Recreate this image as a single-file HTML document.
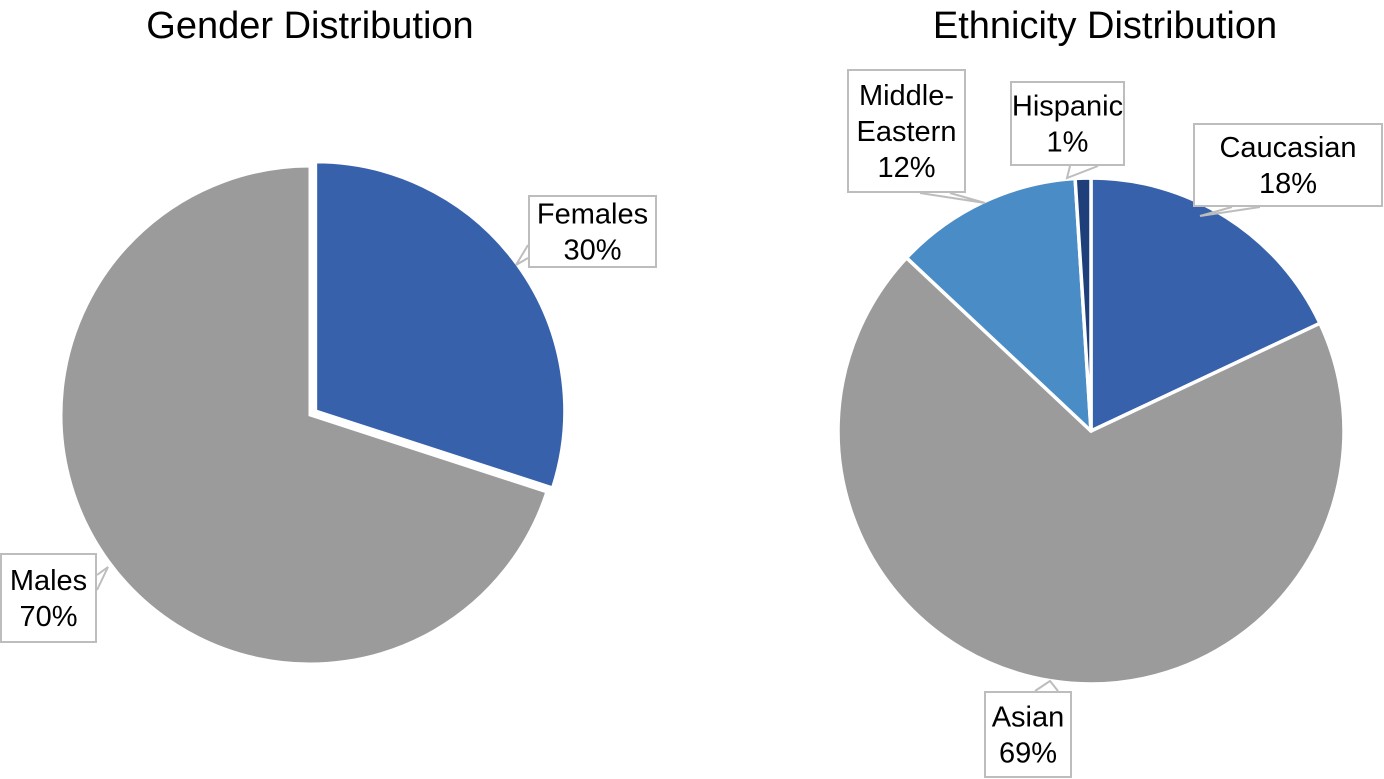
<!DOCTYPE html>
<html><head><meta charset="utf-8"><style>
html,body{margin:0;padding:0;background:#fff;width:1384px;height:779px;overflow:hidden}
svg{display:block;font-family:"Liberation Sans",Arial,sans-serif}
</style></head><body>
<svg id="c" width="1384" height="779" viewBox="0 0 1384 779">
<text x="310" y="38" font-size="38" text-anchor="middle" fill="#000">Gender Distribution</text>
<text x="1105" y="38" font-size="38" text-anchor="middle" fill="#000">Ethnicity Distribution</text>
<g id="g1"></g>
<g id="g2"></g>
<g id="lbl"></g>
</svg>
<script>
const genderCats = ["Females","Males"];
const genderVals = [30,70];
const ethCats = ["Caucasian","Asian","Middle-Eastern","Hispanic"];
const ethVals = [18,69,12,1];

const NS="http://www.w3.org/2000/svg";
function mk(tag,attrs,parent){const e=document.createElementNS(NS,tag);for(const k in attrs)e.setAttribute(k,attrs[k]);parent.appendChild(e);return e;}
function pt(cx,cy,r,a){return [cx+r*Math.sin(a),cy-r*Math.cos(a)];}
function slice(cx,cy,r,a0,a1){const p0=pt(cx,cy,r,a0),p1=pt(cx,cy,r,a1);const large=(a1-a0)>Math.PI?1:0;
 return `M${cx},${cy} L${p0[0]},${p0[1]} A${r},${r} 0 ${large} 1 ${p1[0]},${p1[1]} Z`;}

const g1=document.getElementById('g1');
const gCol=["#3762ab","#9a9b9a"];
const gExplode=[7,0];
let tot=genderVals.reduce((a,b)=>a+b,0),acc=0;
genderVals.forEach((v,i)=>{const a0=acc/tot*2*Math.PI;acc+=v;const a1=acc/tot*2*Math.PI;const m=(a0+a1)/2;
 const cx=310+gExplode[i]*Math.sin(m),cy=415-gExplode[i]*Math.cos(m);
 const p=mk('path',{d:slice(cx,cy,249,a0,a1),fill:gCol[i],stroke:"#fff","stroke-width":3},g1);
 
 });

const g2=document.getElementById('g2');
const eCol=["#3762ab","#9a9b9a","#4a8cc6","#1f3f7a"];
tot=ethVals.reduce((a,b)=>a+b,0);acc=0;
ethVals.forEach((v,i)=>{const a0=acc/tot*2*Math.PI;acc+=v;const a1=acc/tot*2*Math.PI;
 const p=mk('path',{d:slice(1091,431,253,a0,a1),fill:eCol[i],stroke:"#fff","stroke-width":3.5,"stroke-linejoin":"round"},g2);
 
 });

const L=document.getElementById('lbl');
const boxes=[
 {n:"females-label",x:528,y:195,w:129,h:73,lines:["Females","30%"],ptr:[[528,245],[516,265],[528,258]]},
 {n:"males-label",x:0,y:553,w:97,h:90,lines:["Males","70%"],ptr:[[97,575],[108,567],[97,590]]},
 {n:"middle-eastern-label",x:847,y:69,w:119,h:124,lines:["Middle-","Eastern","12%"],ptr:[[920,193],[985,203],[950,193]]},
 {n:"hispanic-label",x:1010,y:81,w:115,h:85,lines:["Hispanic","1%"],ptr:[[1070,166],[1067,178],[1098,166]]},
 {n:"caucasian-label",x:1193,y:123,w:190,h:84,lines:["Caucasian","18%"],ptr:[[1232,207],[1200,216],[1260,207]]},
 {n:"asian-label",x:984,y:691,w:88,h:87,lines:["Asian","69%"],ptr:[[1035,691],[1050,681],[1058,691]]}
];
boxes.forEach(b=>{
 const g=mk('g',{},L);
 
 
 mk('rect',{x:b.x+1,y:b.y+1,width:b.w-2,height:b.h-2,fill:"#fff",stroke:"#bdbdbd","stroke-width":2},g);
 mk('polyline',{points:b.ptr.map(p=>p.join(',')).join(' '),fill:"#fff",stroke:"#bdbdbd","stroke-width":2},g);
 const cx=b.x+b.w/2,lh=36,startY=b.y+b.h/2-(b.lines.length-1)*lh/2+10;
 b.lines.forEach((t,i)=>{const tx=mk('text',{x:cx,y:startY+i*lh,"font-size":29,"text-anchor":"middle",fill:"#000"},g);tx.textContent=t;});
});
</script>
</body></html>
